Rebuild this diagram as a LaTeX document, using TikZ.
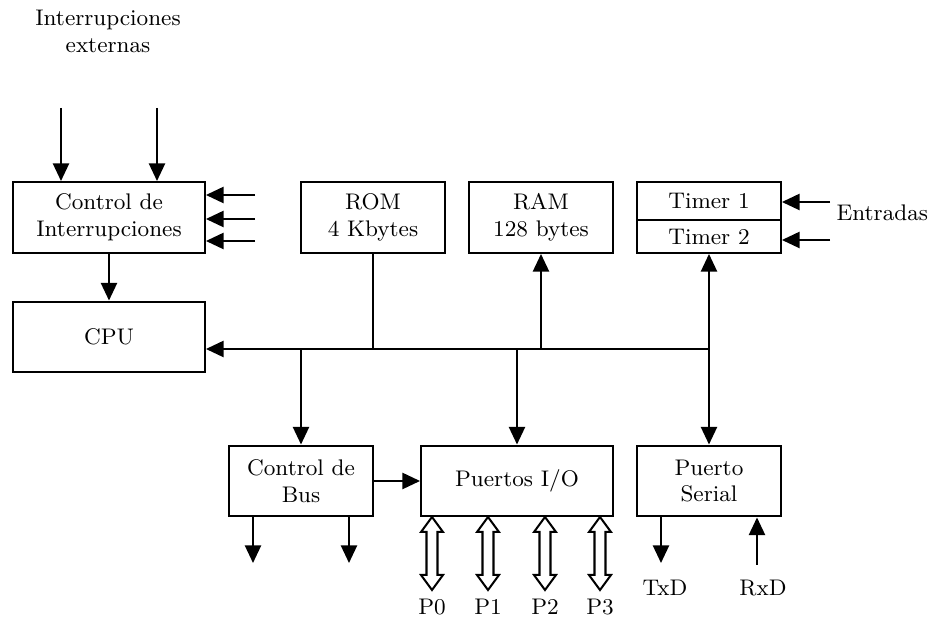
\documentclass[tikz,border=0pt]{standalone}
\usepackage{tikz}
\usetikzlibrary{arrows.meta}

\begin{document}
\begin{tikzpicture}[x=0.014cm, y=-0.014cm, thick,
        blk/.style={draw, align=center, minimum height=0.994cm, inner sep=1pt, font=\fontsize{9}{10.7}\selectfont},
        small/.style={blk, minimum width=2.016cm},
        wide/.style={blk, minimum width=2.688cm},
        arr/.style={-{Triangle[length=7pt, width=6.4pt]}},
        arrb/.style={{Triangle[length=7pt, width=6.4pt]}-{Triangle[length=7pt, width=6.4pt]}},
        port/.style={draw, fill=white, line join=miter},
        lbl/.style={font=\fontsize{9}{10.7}\selectfont, inner sep=0pt}]
    \useasboundingbox (0,0) rectangle (932,624);

    \node[wide] at (109,217.5) (ci) {Control de\\Interrupciones};
    \node[wide] at (109,337)   (cpu) {CPU};
    \node[small] at (373,217.5) (rom) {ROM\\4 Kbytes};
    \node[small] at (541,217.5) (ram) {RAM\\128 bytes};
    \node[small, minimum height=0.532cm] at (709,201)   (tmra) {Timer 1};
    \node[small, minimum height=0.462cm] at (709,236.5) (tmrb) {Timer 2};
    \node[small] at (301,481) (cbus) {Control de\\Bus};
    \node[wide]  at (517,481) (pio) {Puertos I/O};
    \node[small] at (709,481) (ser) {Puerto\\Serial};

    \node[lbl, align=center] at (108,31) (ext) {Interrupciones\\externas};
    \node[lbl, anchor=east] at (929,213) (ent) {Entradas};
    \node[lbl] at (665,588) (txd) {TxD};
    \node[lbl] at (763,588) (rxd) {RxD};

    % interrupciones
    \coordinate (ia) at (61,108);
    \coordinate (ib) at (157,108);
    \draw[arr] (ia) -- (ia |- ci.north);
    \draw[arr] (ib) -- (ib |- ci.north);
    \foreach \y [count=\i] in {195,219,241} {
        \coordinate (ir\i) at (255,\y);
        \draw[arr] (ir\i) -- (ir\i -| ci.east);
    }
    \draw[arr] (ci.south) -- (cpu.north);

    % entradas timers
    \coordinate (ea) at (830,202);
    \coordinate (eb) at (830,240);
    \draw[arr] (ea) -- (ea -| tmra.east);
    \draw[arr] (eb) -- (eb -| tmrb.east);

    % bus
    \coordinate (busR) at (709,349);
    \draw[arr] (busR) -- (busR -| cpu.east);
    \draw (rom.south) -- (rom.south |- busR);
    \draw[arr] (ram.south |- busR) -- (ram.south);
    \draw[arrb] (tmrb.south) -- (ser.north);
    \draw[arr] (cbus.north |- busR) -- (cbus.north);
    \draw[arr] (pio.north |- busR) -- (pio.north);
    \draw[arr] (cbus.east) -- (pio.west);

    % salidas
    \coordinate (ba) at (253,563);
    \coordinate (bb) at (349,563);
    \draw[arr] (ba |- cbus.south) -- (ba);
    \draw[arr] (bb |- cbus.south) -- (bb);
    \coordinate (tx) at (661,563);
    \coordinate (rx) at (757,565);
    \draw[arr] (tx |- ser.south) -- (tx);
    \draw[arr] (rx) -- (rx |- ser.south);

    % puertos
    \foreach \x [count=\i from 0] in {432,488,545,600} {
        \coordinate (dp\i) at (\x,517);
        \draw[port] (dp\i) -- ++(11,15) -- ++(-5.5,0) -- ++(0,43) -- ++(5.5,0) -- ++(-11,15)
            -- ++(-11,-15) -- ++(5.5,0) -- ++(0,-43) -- ++(-5.5,0) -- cycle;
        \node[lbl] at (\x,607) (p\i) {P\i};
    }
\end{tikzpicture}
\end{document}
